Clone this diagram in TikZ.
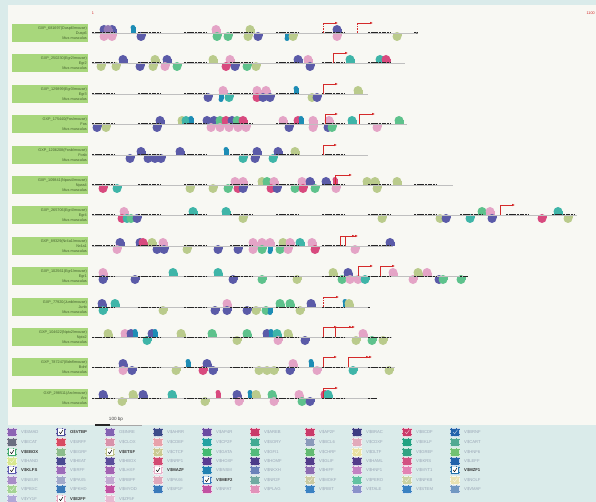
\documentclass[tikz,border=0pt]{standalone}
\usepackage{fontspec}
\setmainfont{Liberation Sans}
\usetikzlibrary{arrows.meta}
\definecolor{cpur}{HTML}{5B5BA8}
\definecolor{cpnk}{HTML}{E4A4C6}
\definecolor{colv}{HTML}{BACB8C}
\definecolor{ctea}{HTML}{3FB5A8}
\definecolor{cgrn}{HTML}{5EC28C}
\definecolor{cmag}{HTML}{D84A7E}
\definecolor{cblu}{HTML}{1E8DB5}
\definecolor{tssred}{HTML}{D42A2A}
\definecolor{bgblue}{HTML}{DAEBEA}
\definecolor{panel}{HTML}{F8F8F3}
\definecolor{lblgreen}{HTML}{A8D77C}
\definecolor{lbltext}{HTML}{45622F}
\definecolor{legtext}{HTML}{9AA6B6}
\tikzset{
  lightline/.style={line width=0.5pt, draw=black!25},
  darkline/.style={line width=1pt, draw=black!85, dash pattern=on 2.2pt off 0.5pt},
  tssline/.style={draw=tssred, line width=0.6pt, -{Latex[length=3pt,width=2.6pt]}},
  tssline2/.style={draw=tssred, line width=0.6pt, -{Latex[length=3pt,width=2.6pt]Latex[length=3pt,width=2.6pt]}},
  lbl/.style={fill=lblgreen, minimum height=18.5pt, inner sep=1.2pt, align=right, text width=73.6pt, font=\fontsize{3.8}{4.9}\selectfont, text=lbltext},
  legtxt/.style={anchor=west, inner sep=0pt, font=\fontsize{4.2}{5}\selectfont, text=legtext},
  legbold/.style={anchor=west, inner sep=0pt, font=\fontsize{4.2}{5}\selectfont\bfseries, text=black!80}
}
\newcommand\siteU[3]{\fill[#3] (#1-4.5,#2) rectangle (#1+4.5,#2-3.5); \fill[#3] (#1,#2-3.5) circle[radius=4.5pt];}
\newcommand\siteD[3]{\fill[#3] (#1-4.5,#2) rectangle (#1+4.5,#2+3.5); \fill[#3] (#1,#2+3.5) circle[radius=4.5pt];}
\newcommand\narU[3]{\fill[#3] (#1-2.5,#2) rectangle (#1+2.5,#2-5.5); \fill[#3] (#1,#2-5.5) circle[radius=2.5pt];}
\newcommand\narD[3]{\fill[#3] (#1-2.5,#2) rectangle (#1+2.5,#2+5.5); \fill[#3] (#1,#2+5.5) circle[radius=2.5pt];}
\newcommand\geneline[2]{%
  \draw[lightline] (92,#1) -- (#2,#1);
  \foreach \k in {0,...,10}{%
    \pgfmathsetmacro\xa{92+46*\k}%
    \pgfmathsetmacro\xb{min(115+46*\k,#2)}%
    \ifdim\xa pt<#2pt \draw[darkline] (\xa,#1) -- (\xb,#1);\fi
  }}
\newcommand\tss[3]{\draw[tssline] (#1,#2) -- (#1,#2-10) -- (#3,#2-10);}
\newcommand\tssdot[3]{\draw[tssred,line width=0.6pt,densely dotted] (#1,#2) -- (#1,#2-10); \draw[tssline] (#1,#2-10) -- (#3,#2-10);}
\newcommand\tssdbl[3]{\draw[tssline2] (#1,#2) -- (#1,#2-10) -- (#3,#2-10);}
\newcommand\legbox[3]{\definecolor{lc}{HTML}{#3}\fill[lc] (#1,#2-4.3) rectangle (#1+10,#2+4.3); \draw[white!75!lc,densely dotted,line width=0.3pt] (#1+0.6,#2-3.7) rectangle (#1+9.4,#2+3.7);}
\newcommand\legN[4]{\legbox{#1}{#2}{#3}\node[legtxt] at (#1+14,#2) {#4};}
\newcommand\legF[4]{\legbox{#1}{#2}{#3}\draw[white!60!lc,line width=0.5pt] (#1+3,#2) -- (#1+4.6,#2+1.8) -- (#1+7.5,#2-2.2);\node[legtxt] at (#1+14,#2) {#4};}
\newcommand\legB[4]{\legbox{#1}{#2}{#3}\fill[white] (#1+2.4,#2-2.6) rectangle (#1+7.6,#2+2.6);\draw[black,line width=0.5pt] (#1+3.2,#2) -- (#1+4.6,#2+1.6) -- (#1+7,#2-2);\node[legbold] at (#1+14,#2) {#4};}
\begin{document}
\begin{tikzpicture}[x=1pt,y=-1pt]
\useasboundingbox (0,0) rectangle (596,502);
\fill[bgblue] (0,0) rectangle (596,502);
\fill[panel] (8,5) rectangle (596,425);
% scale labels
\node[text=tssred, font=\fontsize{3.8}{4}\selectfont, inner sep=0pt] (pos1) at (93,13) {1};
\node[text=tssred, font=\fontsize{3.8}{4}\selectfont, inner sep=0pt, anchor=east] (posend) at (595,13) {1100};
% label boxes
\node[lbl] (g1) at (50,33) {GXP\_681697(Dusp6/mouse)\\Dusp6\\Mus musculus};
\node[lbl] (g2) at (50,63) {GXP\_250230(Egr2/mouse)\\Egr2\\Mus musculus};
\node[lbl] (g3) at (50,94) {GXP\_129899(Egr3/mouse)\\Egr3\\Mus musculus};
\node[lbl] (g4) at (50,124) {GXP\_175440(Fos/mouse)\\Fos\\Mus musculus};
\node[lbl] (g5) at (50,155) {GXP\_1206208(Fosb/mouse)\\Fosb\\Mus musculus};
\node[lbl] (g6) at (50,185) {GXP\_109841(Npas4/mouse)\\Npas4\\Mus musculus};
\node[lbl] (g7) at (50,215) {GXP\_265706(Egr4/mouse)\\Egr4\\Mus musculus};
\node[lbl] (g8) at (50,246) {GXP\_89329(Nr4a1/mouse)\\Nr4a1\\Mus musculus};
\node[lbl] (g9) at (50,276) {GXP\_102561(Egr1/mouse)\\Egr1\\Mus musculus};
\node[lbl] (g10) at (50,307) {GXP\_77920(Junb/mouse)\\Junb\\Mus musculus};
\node[lbl] (g11) at (50,337) {GXP\_104622(Nptx2/mouse)\\Nptx2\\Mus musculus};
\node[lbl] (g12) at (50,367) {GXP\_787247(Bdnf/mouse)\\Bdnf\\Mus musculus};
\node[lbl] (g13) at (50,398) {GXP\_298511(Arc/mouse)\\Arc\\Mus musculus};
% ---- row 1
\siteU{104}{33}{cpur} \siteU{112}{33}{cpur} \siteU{108}{33}{cpur!60!cpnk}
\siteD{104}{33}{cpnk} \siteD{112}{33}{cpnk}
\narU{133}{33}{cblu} \siteD{141}{33}{cpur}
\siteU{216}{33}{cpnk} \siteD{217}{33}{cgrn} \siteD{228}{33}{cgrn}
\siteU{250}{33}{colv} \siteD{248}{33}{colv} \siteD{258}{33}{cpur}
\narD{287}{33}{cblu} \siteD{293}{33}{colv}
\siteU{337}{33}{cpur} \siteD{337}{33}{cpnk}
\siteD{397}{33}{colv}
\geneline{33}{417}
\fill[black!80] (417,33) circle[radius=0.9pt];
\tssdot{323}{33}{338} \tssdot{357}{33}{373}
% ---- row 2
\siteD{101}{63}{colv} \siteD{116}{63}{colv} \siteU{123}{63}{cpur}
\siteD{140}{63}{cpur} \siteU{155}{63}{colv} \siteD{153}{63}{colv} \siteU{167}{63}{cpur} \siteD{165}{63}{cpnk} \siteD{177}{63}{cgrn}
\siteU{213}{63}{colv}
\siteU{230}{63}{cpnk} \siteD{226}{63}{cmag} \siteD{235}{63}{cpur} \siteD{247}{63}{cgrn} \siteD{256}{63}{colv}
\siteU{298}{63}{cpur} \siteU{308}{63}{cpnk} \siteD{310}{63}{cpur}
\siteU{350}{63}{ctea}
\siteU{380}{63}{ctea} \siteU{386}{63}{cmag}
\geneline{63}{405}
\tss{333}{63}{348}
% ---- row 3
\siteD{208}{94}{cpur}
\siteU{223}{94}{cpnk} \narD{221}{94}{cblu} \siteD{229}{94}{ctea}
\siteU{257}{94}{cpnk} \siteU{266}{94}{cpnk} \siteD{257}{94}{cmag} \siteD{263}{94}{cpur} \siteD{270}{94}{cpur}
\narU{296}{94}{cblu}
\siteD{312}{94}{colv} \siteD{317}{94}{cpur}
\siteU{358}{94}{colv}
\geneline{94}{368}
\tss{323}{94}{338}
% ---- row 4
\siteD{97}{124}{cpur} \siteD{106}{124}{colv}
\siteD{157}{124}{cpur} \siteU{160}{124}{cpur}
\siteU{182}{124}{colv} \siteU{186}{124}{ctea} \narU{191}{124}{cblu}
\siteU{207}{124}{cpur} \siteU{214}{124}{cpur} \siteU{220}{124}{cgrn} \siteU{226}{124}{cmag} \siteU{232}{124}{cpur} \siteU{237}{124}{cgrn} \siteU{243}{124}{cmag}
\siteD{211}{124}{cpnk} \siteD{220}{124}{cpnk} \siteD{229}{124}{cpnk} \siteD{238}{124}{cpnk} \siteD{246}{124}{cpnk}
\siteU{283}{124}{cpnk} \siteD{289}{124}{cpur} \siteU{298}{124}{cmag} \narU{301}{124}{cblu}
\siteU{313}{124}{cpnk} \siteD{313}{124}{cpnk}
\siteU{329}{124}{cpnk} \siteD{328}{124}{cpur} \siteD{332}{124}{cgrn}
\siteU{352}{124}{ctea}
\siteD{377}{124}{cpnk}
\siteU{399}{124}{cgrn}
\geneline{124}{407}
\tss{325}{124}{338} \tss{359}{124}{375}
% ---- row 5
\siteD{130}{155}{cpur} \siteU{141}{155}{cpur} \siteD{148}{155}{cpur} \siteD{155}{155}{cpur} \siteD{161}{155}{cpur}
\siteU{180}{155}{cpur}
\narU{226}{155}{cblu}
\siteD{243}{155}{ctea} \siteU{257}{155}{cpur} \siteD{255}{155}{cpur} \siteD{273}{155}{ctea} \siteU{278}{155}{cpur} \siteU{295}{155}{colv}
\geneline{155}{368}
\tss{323}{155}{337}
% ---- row 6
\siteD{103}{185}{cmag} \siteD{117}{185}{ctea}
\siteD{190}{185}{colv} \siteD{213}{185}{colv}
\siteU{235}{185}{cpnk} \siteU{243}{185}{cpnk} \siteD{228}{185}{cgrn} \siteD{238}{185}{cmag} \siteD{243}{185}{cpur}
\siteU{262}{185}{colv} \siteU{267}{185}{cgrn} \siteU{274}{185}{cpnk} \siteD{271}{185}{cmag} \siteD{277}{185}{cpur}
\siteD{295}{185}{cgrn} \siteU{302}{185}{cpnk} \siteU{310}{185}{cpur} \siteD{303}{185}{cmag} \siteD{315}{185}{cgrn}
\siteU{326}{185}{cpur} \narU{335}{185}{cmag} \siteD{336}{185}{cpnk}
\siteU{367}{185}{colv} \siteU{375}{185}{colv} \siteD{377}{185}{colv}
\siteU{397}{185}{colv}
\geneline{185}{453}
\tss{335}{185}{352}
% ---- row 7
\siteU{124}{215}{cpnk} \siteD{122}{215}{cmag} \siteD{127}{215}{ctea} \siteD{131}{215}{cgrn} \siteD{137}{215}{cpur}
\siteU{193}{215}{ctea}
\siteU{226}{215}{ctea} \siteD{243}{215}{colv}
\siteD{382}{215}{colv}
\siteD{440}{215}{colv} \siteD{446}{215}{cpur}
\siteD{470}{215}{ctea} \siteU{482}{215}{cgrn} \siteU{490}{215}{cpnk} \siteD{492}{215}{cpur}
\siteD{542}{215}{cmag} \siteU{558}{215}{ctea} \siteD{568}{215}{colv}
\geneline{215}{577}
\tss{500}{215}{515}
% ---- row 8
\siteU{120}{246}{cpur} \siteD{117}{246}{cpnk}
\siteU{140}{246}{cpur} \siteU{143}{246}{cmag} \siteU{152}{246}{colv} \siteU{163}{246}{cpnk} \siteD{157}{246}{cpur} \siteD{164}{246}{cpur}
\siteD{187}{246}{colv}
\siteD{218}{246}{cpur}
\siteD{238}{246}{cpur}
\siteU{253}{246}{cpnk} \siteU{262}{246}{cpnk} \siteU{270}{246}{cpnk} \siteD{253}{246}{cpnk} \siteD{262}{246}{cgrn} \narD{270}{246}{cblu}
\siteD{280}{246}{cgrn} \siteU{283}{246}{colv} \siteU{290}{246}{cpnk} \siteD{288}{246}{cpnk} \siteU{300}{246}{ctea}
\siteU{312}{246}{cpnk} \siteD{315}{246}{cmag}
\siteD{355}{246}{cpnk}
\siteU{390}{246}{cpur}
\geneline{246}{393}
\tssdbl{340}{246}{358} \draw[tssred,line width=0.6pt] (345,246) -- (345,236);
% ---- row 9
\siteU{103}{276}{cpnk} \siteD{103}{276}{cpur}
\siteD{135}{276}{cpur}
\siteU{173}{276}{ctea}
\siteU{218}{276}{ctea}
\siteD{233}{276}{cpur}
\siteD{262}{276}{cgrn}
\siteD{297}{276}{colv}
\siteU{333}{276}{colv} \siteD{342}{276}{cgrn} \siteU{348}{276}{cpur} \siteD{350}{276}{cpnk} \siteD{358}{276}{cpnk} \siteD{365}{276}{ctea}
\siteU{393}{276}{cpnk}
\siteD{413}{276}{cpnk} \siteU{418}{276}{colv} \siteU{427}{276}{cpnk} \siteD{439}{276}{cpur} \siteD{443}{276}{cgrn} \siteD{461}{276}{cgrn}
\geneline{276}{468}
\tss{358}{276}{373} \tss{380}{276}{395}
% ---- row 10
\siteU{102}{307}{cpur} \siteD{103}{307}{ctea} \siteU{115}{307}{ctea}
\siteD{163}{307}{colv}
\siteD{215}{307}{cpur} \siteU{227}{307}{cpnk} \siteD{227}{307}{cpur} \siteD{247}{307}{cpur} \siteD{256}{307}{colv} \siteD{266}{307}{cgrn} \narD{270}{307}{cblu}
\siteU{280}{307}{cgrn} \siteU{290}{307}{cgrn} \siteD{300}{307}{colv}
\siteU{311}{307}{cpur}
\narU{345}{307}{cblu} \siteU{349}{307}{colv}
\geneline{307}{370}
\tssdot{323}{307}{339}
% ---- row 11
\siteU{108}{337}{colv} \siteU{125}{337}{cpnk} \siteU{131}{337}{cpur} \narU{135}{337}{cblu} \siteD{147}{337}{ctea} \siteU{152}{337}{cpur} \narU{155}{337}{cblu}
\siteU{181}{337}{colv}
\siteU{212}{337}{cgrn}
\siteD{237}{337}{colv} \siteU{247}{337}{cgrn}
\siteU{267}{337}{cpur} \narU{271}{337}{cblu} \siteU{277}{337}{ctea} \siteU{288}{337}{colv} \siteD{278}{337}{cpnk}
\siteD{305}{337}{cpur}
\siteD{356}{337}{colv} \siteU{363}{337}{cpnk} \siteD{372}{337}{cgrn} \siteD{383}{337}{colv}
\geneline{337}{392}
\tss{323}{337}{337} \tssdbl{335}{337}{355}
% ---- row 12
\siteU{123}{367}{cpur} \siteD{123}{367}{cpnk} \siteD{132}{367}{cpur}
\siteD{176}{367}{colv}
\narU{188}{367}{cblu}
\siteD{203}{367}{cmag} \siteU{207}{367}{cpur} \siteD{213}{367}{cpur}
\siteD{259}{367}{colv} \siteD{267}{367}{colv} \siteD{274}{367}{colv} \siteD{290}{367}{cpur} \siteU{293}{367}{cpnk}
\narU{311}{367}{cblu} \siteD{317}{367}{cpnk}
\siteD{353}{367}{ctea}
\siteD{389}{367}{colv}
\geneline{367}{395}
\tss{323}{367}{337} \tssdbl{348}{367}{372}
% ---- row 13
\siteU{103}{398}{cpur} \siteD{122}{398}{colv} \siteU{133}{398}{colv} \siteU{143}{398}{cpur} \siteU{172}{398}{ctea} \siteD{205}{398}{colv} \narU{218}{398}{cmag}
\siteU{237}{398}{cpur} \siteD{239}{398}{cpnk} \narU{250}{398}{cblu} \siteU{256}{398}{colv} \siteU{272}{398}{cgrn} \siteD{274}{398}{cpnk}
\siteU{299}{398}{cpnk} \siteD{302}{398}{cgrn} \siteD{310}{398}{cpur} \siteU{325}{398}{cmag} \siteU{328}{398}{ctea}
\geneline{398}{377}
\tss{323}{398}{338}
% ---- scale bar
\node[font=\fontsize{4.6}{5}\selectfont, text=black!75, inner sep=0pt] (bp) at (116,419.5) {100 bp};
\draw[line width=1.2pt, black!85] (95,425) -- (110,425);
\draw[line width=0.5pt, black!35] (110,425) -- (142,425);
% ---- legend col 1
\legN{7}{432}{8C64B4}{V\$SMAD}
\legN{7}{442}{6A6E80}{V\$ECAT}
\legB{7}{452}{3FA86C}{V\$EBOX}
\legF{7}{461}{D8E88E}{V\$HAND}
\legB{7}{470}{5C5CB0}{V\$KLFS}
\legN{7}{480}{A88CC8}{V\$NEUR}
\legF{7}{489}{A4D494}{V\$PBXC}
\legN{7}{499}{B0A8D8}{V\$YY1F}
% col 2
\legB{56}{432}{4A4C98}{O\$VTBP}
\legN{56}{442}{D84A62}{V\$SRFF}
\legN{56}{452}{8CBC8C}{V\$EGRF}
\legN{56}{461}{4A4A92}{V\$HEAT}
\legN{56}{470}{9C6CBA}{V\$IRFF}
\legN{56}{480}{A2AACA}{V\$PAX5}
\legN{56}{489}{3A7AB8}{V\$FKHD}
\legB{56}{499}{E2A2BA}{V\$E2FF}
% col 3
\legN{105}{432}{8262B2}{O\$INRE}
\legN{105}{442}{D892AA}{V\$CLOX}
\legB{105}{452}{BCC28A}{V\$ETSF}
\legN{105}{461}{5A4C9A}{V\$HBOX}
\legN{105}{470}{A262B2}{V\$LHXF}
\legN{105}{480}{C2AAD2}{V\$RBPF}
\legN{105}{489}{C252A2}{V\$MYOD}
\legN{105}{499}{E8BAD2}{V\$ZF5F}
% col 4
\legN{153}{432}{3C4C8A}{V\$AHRR}
\legN{153}{442}{E8A2AA}{V\$CDEF}
\legF{153}{452}{CACA92}{V\$CTCF}
\legN{153}{461}{D24A72}{V\$NRF1}
\legB{153}{470}{E8B2CA}{V\$MAZF}
\legN{153}{480}{E0A8BA}{V\$PAX6}
\legN{153}{489}{3A7ABA}{V\$SP1F}
% col 5
\legN{202}{432}{6A4CA2}{V\$AP4R}
\legN{202}{442}{22A2A2}{V\$CP2F}
\legN{202}{452}{42BA72}{V\$GATA}
\legN{202}{461}{5A3C92}{V\$HOXF}
\legN{202}{470}{2282B2}{V\$INSM}
\legB{202}{480}{3A7ABA}{V\$MEF2}
\legN{202}{489}{C252A2}{V\$NFAT}
% col 6
\legN{250}{432}{CA3A6A}{V\$AREB}
\legN{250}{442}{42AA92}{V\$SORY}
\legN{250}{452}{52BA7A}{V\$GFI1}
\legN{250}{461}{4C3C8A}{V\$HOMF}
\legN{250}{470}{6A82BA}{V\$NKXH}
\legN{250}{480}{72AAA2}{V\$NR2F}
\legN{250}{489}{E292BA}{V\$PLAG}
% col 7
\legN{305}{432}{CA3A6A}{V\$AP2F}
\legN{305}{442}{8A9ABA}{V\$BCL6}
\legN{305}{452}{62BA72}{V\$CHRF}
\legN{305}{461}{523C8A}{V\$GLIF}
\legN{305}{470}{8C6CB2}{V\$HIFF}
\legF{305}{480}{CACAA2}{V\$MOKF}
\legN{305}{489}{3A82C2}{V\$RBIT}
% col 8
\legN{352}{432}{3C3C82}{V\$BRAC}
\legN{352}{442}{E2AABA}{V\$CDXF}
\legF{352}{452}{EAE2A2}{V\$DLTF}
\legN{352}{461}{523C8A}{V\$HAML}
\legN{352}{470}{C282C2}{V\$HNF1}
\legN{352}{480}{62C2A2}{V\$PERO}
\legN{352}{489}{8A92CA}{V\$TALE}
% col 9
\legF{402}{432}{CA3A6A}{V\$BCDF}
\legN{402}{442}{22A282}{V\$EKLF}
\legN{402}{452}{32A282}{V\$GREF}
\legN{402}{461}{D25282}{V\$IKRS}
\legN{402}{470}{E282B2}{V\$MYT1}
\legF{402}{480}{CAD2A2}{V\$NFKB}
\legN{402}{489}{3A82C2}{V\$STEM}
% col 10
\legF{450}{432}{2262AA}{V\$BRNF}
\legN{450}{442}{52AA92}{V\$CART}
\legN{450}{452}{72C272}{V\$HNF6}
\legN{450}{461}{2262AA}{V\$LEFF}
\legB{450}{470}{2272AA}{V\$MZF1}
\legF{450}{480}{EAE2B2}{V\$NOLF}
\legN{450}{489}{7298C2}{V\$VMAF}
\end{tikzpicture}
\end{document}
